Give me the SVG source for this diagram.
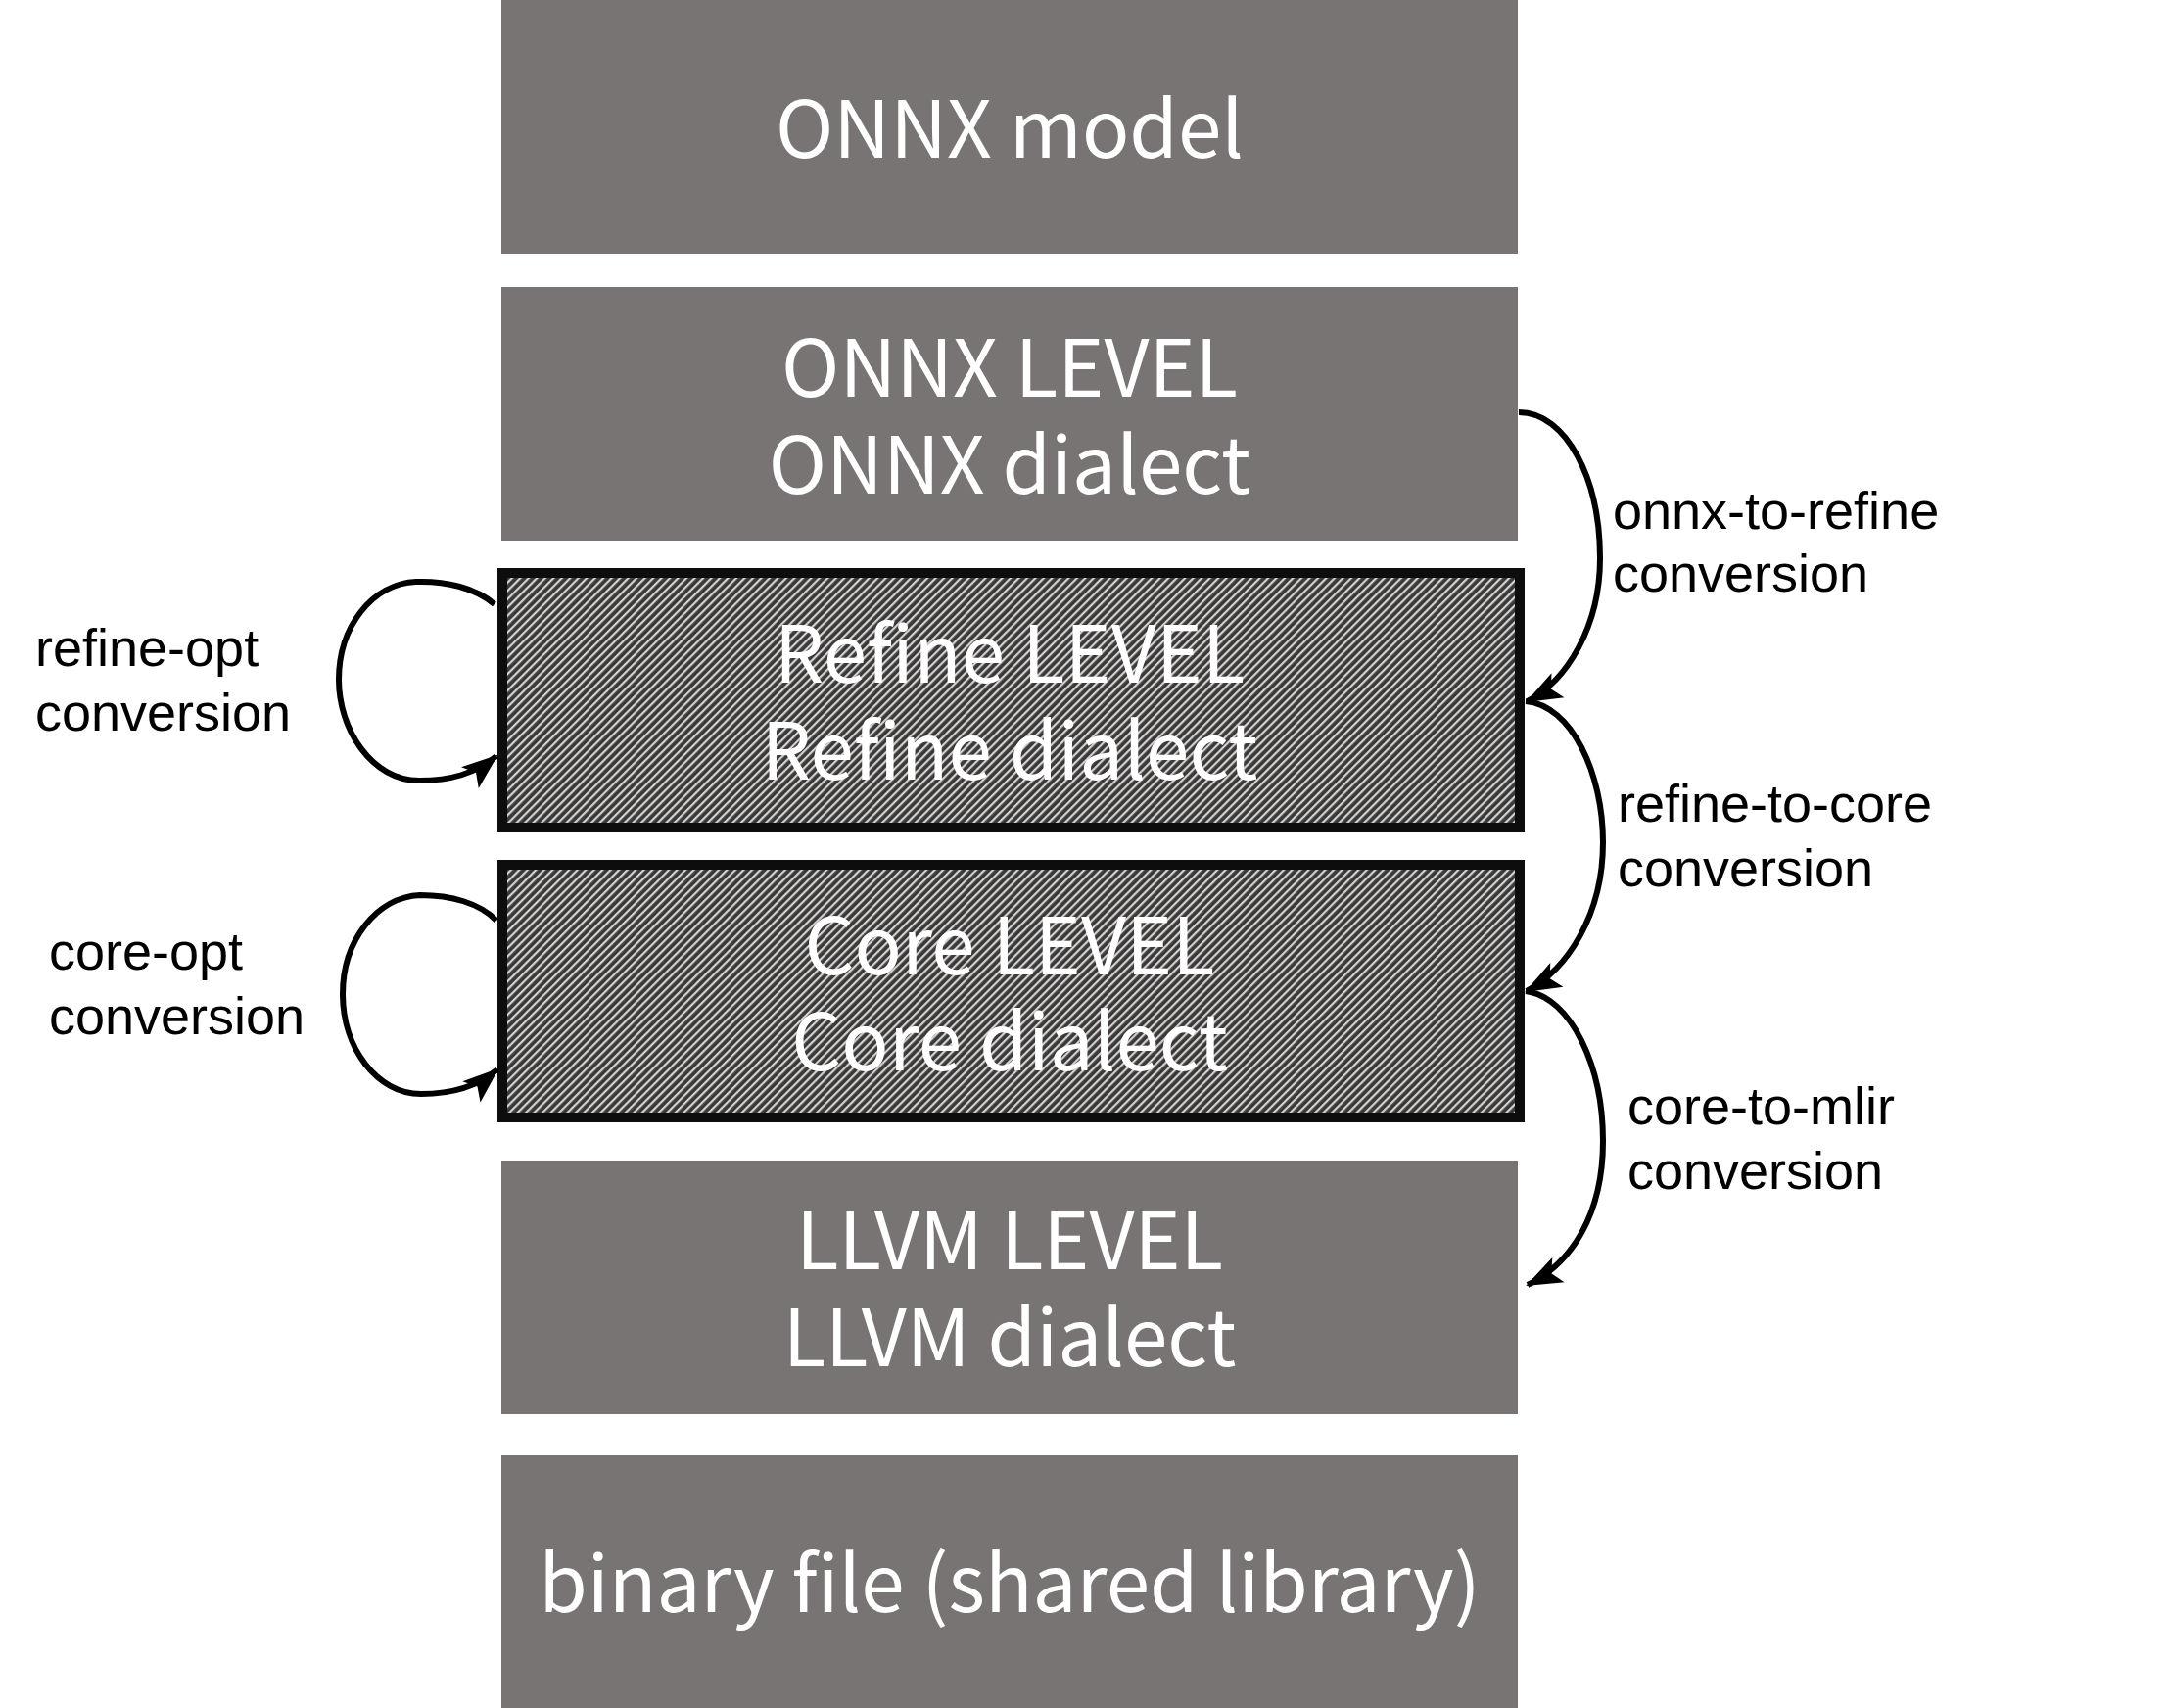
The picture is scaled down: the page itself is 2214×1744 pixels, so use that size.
<svg xmlns="http://www.w3.org/2000/svg" width="2214" height="1744" viewBox="0 0 2214 1744">
<style>
.box{fill:#787473}
.hbox{fill:url(#hatch);stroke:#0d0d0d;stroke-width:10}
.bt{font-family:"Noto Sans CJK KR","Open Sans",sans-serif;font-size:80px;font-weight:400;fill:#ffffff;text-anchor:middle}
.lbl{font-family:"Liberation Sans",Arial,sans-serif;font-size:54px;fill:#000000}
.conn{fill:none;stroke:#000000;stroke-width:6}
</style>
<defs>
<pattern id="hatch" patternUnits="userSpaceOnUse" width="6" height="6" patternTransform="rotate(45)">
<rect width="6" height="6" fill="#3b3838"/>
<rect width="2.2" height="6" fill="#d4d2d2"/>
</pattern>
<marker id="ah" markerUnits="userSpaceOnUse" markerWidth="44" markerHeight="44" viewBox="0 0 44 44" refX="37" refY="22" orient="auto">
<path d="M2,8 L39,22 L2,36 L10,22 Z" fill="#000000"/>
</marker>
</defs>
<g id="onnx-model"><rect class="box" x="512" y="0" width="1038" height="259"/><text class="bt" x="1031" y="161">ONNX model</text></g>
<g id="onnx-level"><rect class="box" x="512" y="293" width="1038" height="259"/><text class="bt"><tspan x="1031" y="405">ONNX LEVEL</tspan><tspan x="1031" y="504">ONNX dialect</tspan></text></g>
<g id="refine-level"><rect class="hbox" x="513" y="585" width="1039" height="260"/><text class="bt"><tspan x="1031" y="697">Refine LEVEL</tspan><tspan x="1031" y="796">Refine dialect</tspan></text></g>
<g id="core-level"><rect class="hbox" x="513" y="883" width="1039" height="258"/><text class="bt"><tspan x="1031" y="995">Core LEVEL</tspan><tspan x="1031" y="1093">Core dialect</tspan></text></g>
<g id="llvm-level"><rect class="box" x="512" y="1185" width="1038" height="259"/><text class="bt"><tspan x="1031" y="1296">LLVM LEVEL</tspan><tspan x="1031" y="1395">LLVM dialect</tspan></text></g>
<g id="binary"><rect class="box" x="512" y="1486" width="1038" height="258"/><text class="bt" x="1031" y="1646">binary file (shared library)</text></g>
<g id="connectors">
<path class="conn" marker-end="url(#ah)" d="M505,617 C485,600 455,593 425,594 C380,596 346,640 346,694 C346,745 380,797 428,797 C460,797 485,790 507,772"/>
<path class="conn" marker-end="url(#ah)" d="M507,940 C490,922 460,914 429,914 C385,916 350,960 350,1015 C350,1070 385,1117 430,1117 C462,1117 487,1110 508,1092"/>
<path class="conn" marker-end="url(#ah)" d="M1551,421 C1600,421 1634,490 1634,570 C1634,640 1600,695 1560,716"/>
<path class="conn" marker-end="url(#ah)" d="M1558,716 C1605,720 1637,790 1637,860 C1637,935 1600,990 1559,1012"/>
<path class="conn" marker-end="url(#ah)" d="M1558,1012 C1605,1018 1637,1090 1637,1165 C1637,1240 1605,1290 1560,1312"/>
</g>
<g id="labels">
<text class="lbl"><tspan x="36" y="680">refine-opt</tspan><tspan x="36" y="746">conversion</tspan></text>
<text class="lbl"><tspan x="50" y="990">core-opt</tspan><tspan x="50" y="1056">conversion</tspan></text>
<text class="lbl"><tspan x="1647" y="540">onnx-to-refine</tspan><tspan x="1647" y="604">conversion</tspan></text>
<text class="lbl"><tspan x="1652" y="839">refine-to-core</tspan><tspan x="1652" y="905">conversion</tspan></text>
<text class="lbl"><tspan x="1662" y="1148">core-to-mlir</tspan><tspan x="1662" y="1214">conversion</tspan></text>
</g>
</svg>
